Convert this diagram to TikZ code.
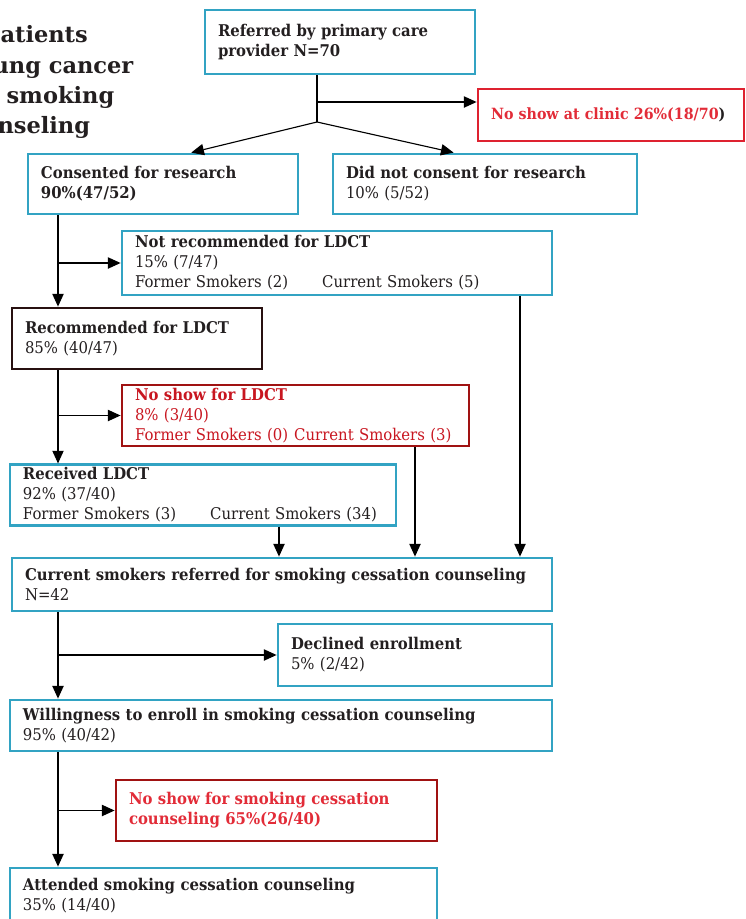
\documentclass[tikz,border=0pt]{standalone}
\usepackage{fontspec}
\setmainfont[FakeStretch=0.92]{DejaVu Serif}
\newfontfamily\titlefont{DejaVu Serif}
\usetikzlibrary{arrows.meta}
\definecolor{ink}{RGB}{35,31,32}
\definecolor{boxcyan}{RGB}{50,163,195}
\definecolor{boxred}{RGB}{222,34,48}
\definecolor{boxdarkred}{RGB}{160,18,18}
\definecolor{boxdark}{RGB}{40,16,16}
\definecolor{txtred}{RGB}{226,44,56}
\definecolor{txtdarkred}{RGB}{200,22,32}
\begin{document}
\begin{tikzpicture}[>={Triangle[length=9pt,width=8pt]}, thick]
\tikzstyle{Block} = [draw, line width=2pt, align=left, inner xsep=0.325cm, inner ysep=2pt, font={\fontsize{11.5}{14.2}\selectfont}, text=ink]
\tikzstyle{Cyan} = [Block, draw=boxcyan]
\tikzstyle{Red} = [Block, draw=boxred, text=txtred]
\tikzstyle{DarkRed} = [Block, draw=boxdarkred]
\tikzstyle{Dark} = [Block, draw=boxdark]
\tikzstyle{Title} = [anchor=base west, inner sep=0, text=ink, font={\titlefont\bfseries\fontsize{16}{19}\selectfont}]
\useasboundingbox (0,0) rectangle (18.65,-22.975);
% title, cut at the left edge
\node [Title] (t1) at (0,-1.05) {atients};
\node [Title] (t2) at (-0.2,-1.825) {ung cancer};
\node [Title] (t3) at (0.15,-2.575) {smoking};
\node [Title] (t4) at (-0.075,-3.325) {nseling};
% boxes
\node [Cyan, text width=6.1cm, minimum height=1.6cm] (v1) at (8.5,-1.05) {\textbf{Referred by primary care}\\\textbf{provider N=70}};
\node [Red, text width=6.0cm, minimum height=1.3cm, font={\fontsize{11}{13.5}\selectfont}] (v2) at (15.275,-2.875) {\mbox{\textbf{No show at clinic 26\%(18/70}\textcolor{ink}{\textbf{)}}}};
\node [Cyan, text width=6.1cm, minimum height=1.5cm] (v3) at (4.075,-4.6) {\textbf{Consented for research}\\\textbf{90\%(47/52)}};
\node [Cyan, text width=6.95cm, minimum height=1.5cm] (v4) at (12.125,-4.6) {\textbf{Did not consent for research}\\10\% (5/52)\\[-3pt]};
\node [Cyan, text width=10.1cm, minimum height=1.6cm] (v5) at (8.425,-6.575) {\textbf{Not recommended for LDCT}\\15\% (7/47)\\Former Smokers (2)\hspace{0.85cm}Current Smokers (5)};
\node [Dark, text width=5.6cm, minimum height=1.525cm] (v6) at (3.425,-8.4625) {\textbf{Recommended for LDCT}\\85\% (40/47)};
\node [DarkRed, text=txtdarkred, text width=8.025cm, minimum height=1.525cm] (v7) at (7.3875,-10.3875) {\textbf{No show for LDCT}\\8\% (3/40)\\Former Smokers (0)\hspace{0.15cm}Current Smokers (3)};
\node [Cyan, text width=9.0cm, minimum height=1.45cm] (v8) at (5.075,-12.375) {\textbf{Received LDCT}\\92\% (37/40)\\Former Smokers (3)\hspace{0.85cm}Current Smokers (34)};
\node [Cyan, text width=12.85cm, minimum height=1.325cm] (v9) at (7.05,-14.6125) {\textbf{Current smokers referred for smoking cessation counseling}\\N=42};
\node [Cyan, text width=6.2cm, minimum height=1.55cm] (v10) at (10.375,-16.375) {\textbf{Declined enrollment}\\5\% (2/42)};
\node [Cyan, text width=12.9cm, minimum height=1.275cm] (v11) at (7.025,-18.1375) {\textbf{Willingness to enroll in smoking cessation counseling}\\95\% (40/42)};
\node [DarkRed, text=txtred, text width=7.375cm, minimum height=1.525cm] (v12) at (6.9125,-20.2625) {\textbf{No show for smoking cessation}\\\textbf{counseling 65\%(26/40)}};
\node [Cyan, text width=10.025cm, minimum height=1.4cm] (v13) at (5.5875,-22.4) {\textbf{Attended smoking cessation counseling}\\35\% (14/40)};
% connectors
\coordinate (j0) at (7.925,-2.55);
\coordinate (j1) at (7.925,-3.05);
\coordinate (s) at (1.45,0);
\coordinate (d1) at (6.975,0);
\coordinate (d2) at (10.375,0);
\coordinate (d3) at (13.0,0);
\draw (v1.south -| j1) -- (j1);
\draw [->] (j0) -- (j0 -| v2.west);
\draw [->] (j1) -- (v3.48);
\draw [->] (j1) -- (v4.135);
\draw [->] (v3.south -| s) -- (v6.north -| s);
\draw [->] (s |- v5.west) -- (v5.west);
\draw [->] (v6.south -| s) -- (v8.north -| s);
\draw [->] (s |- v7.west) -- (v7.west);
\draw [->] (v8.south -| d1) -- (v9.north -| d1);
\draw [->] (v7.south -| d2) -- (v9.north -| d2);
\draw [->] (v5.south -| d3) -- (v9.north -| d3);
\draw [->] (v9.south -| s) -- (v11.north -| s);
\draw [->] (s |- v10.west) -- (v10.west);
\draw [->] (v11.south -| s) -- (v13.north -| s);
\draw [->] (s |- v12.west) -- (v12.west);
\end{tikzpicture}
\end{document}
